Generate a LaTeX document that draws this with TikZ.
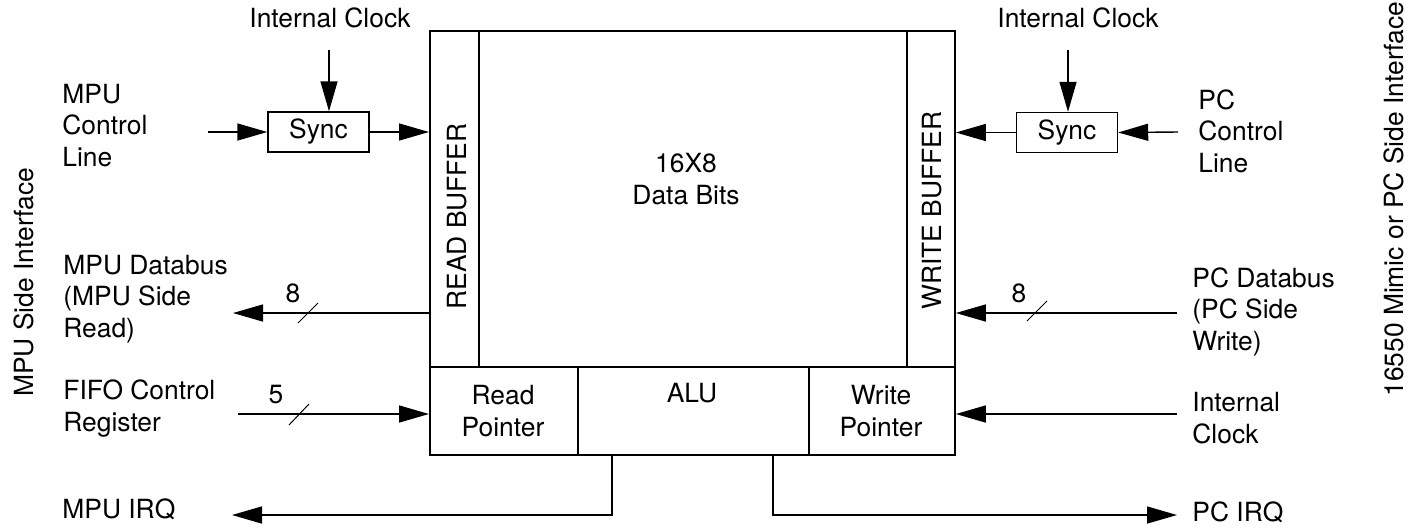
\documentclass[tikz,border=0pt]{standalone}
\usepackage{fontspec}
\setmainfont{TeX Gyre Heros}
\usetikzlibrary{arrows.meta}
\tikzset{
  lbl/.style={font=\fontsize{13.2}{15.75}\selectfont, inner sep=0pt, align=left, anchor=base west},
  clbl/.style={font=\fontsize{13.2}{15.75}\selectfont, inner sep=0pt, align=center, anchor=base},
  rlbl/.style={font=\fontsize{13.2}{15.75}\selectfont, inner sep=0pt, rotate=90, anchor=base west},
  cell/.style={draw, line width=0.9pt, inner sep=0pt, anchor=north west},
  syncbox/.style={draw, line width=0.7pt, minimum width=50.5pt, minimum height=20pt, inner sep=0pt,
                  font=\fontsize{13.2}{15.75}\selectfont},
  arr/.style={line width=0.7pt, -{Triangle[length=15pt,width=8.5pt]}},
  wire/.style={line width=0.7pt},
  busmark/.style={line width=0.5pt},
}
\begin{document}
\begin{tikzpicture}[x=0.5pt,y=-0.5pt]
\useasboundingbox (0,0) rectangle (1416,527);
% FIFO block
\node[cell, minimum width=24.5pt, minimum height=168pt] (readbuf) at (429,30) {};
\node[cell, minimum width=214pt, minimum height=168pt] (core) at (478,30) {};
\node[cell, minimum width=24pt, minimum height=168pt] (writebuf) at (906,30) {};
\node[cell, minimum width=74pt, minimum height=44pt] (rptr) at (429,366) {};
\node[cell, minimum width=115.5pt, minimum height=44pt] (alu) at (577,366) {};
\node[cell, minimum width=73pt, minimum height=44pt] (wptr) at (808,366) {};
\node[rlbl] (rbtxt) at (466,310) {READ BUFFER};
\node[rlbl] (wbtxt) at (941,310) {WRITE BUFFER};
\node[clbl] (coretxt) at (686,204) {16X8\\Data Bits};
\node[clbl] (rptrtxt) at (503,436) {Read\\Pointer};
\node[clbl] (alutxt) at (692,402) {ALU};
\node[clbl] (wptrtxt) at (881,436) {Write\\Pointer};
% side labels
\node[rlbl] (mpuside) at (33,397) {MPU Side Interface};
\node[rlbl] (pcside) at (1403,397) {16550 Mimic or PC Side Interface};
% left side
\node[clbl] (iclkL) at (330,27) {Internal Clock};
\node[syncbox] (syncL) at (318.5,132) {Sync};
\coordinate (clkLs) at (329,50);
\draw[arr] (clkLs) -- (clkLs |- syncL.north);
\node[lbl] (mpuctl) at (62,166) {MPU\\Control\\Line};
\coordinate (inL) at (208,132);
\draw[arr] (inL) -- (syncL.west);
\draw[arr] (syncL.east) -- (syncL.east -| readbuf.west);
\node[lbl] (mpudb) at (63,337) {MPU Databus\\(MPU Side\\Read)};
\coordinate (dbL) at (233,313);
\draw[arr] (dbL -| readbuf.west) -- (dbL);
\draw[busmark] (298,323) -- (318,303);
\node[clbl] (n8L) at (293,302) {8};
\node[lbl] (fifo) at (63,431) {FIFO Control\\Register};
\coordinate (fifoL) at (238,414);
\draw[arr] (fifoL) -- (fifoL -| rptr.west);
\draw[busmark] (289,425) -- (309,404);
\node[clbl] (n5) at (276,403) {5};
\node[lbl] (mpuirq) at (62,518) {MPU IRQ};
\coordinate (irqL) at (232,515);
\draw[arr] (alu.south -| 612,0) -- (612,515) -- (irqL);
% right side
\node[clbl] (iclkR) at (1078,27) {Internal Clock};
\node[syncbox] (syncR) at (1067,132.5) {Sync};
\coordinate (clkRs) at (1068,50);
\draw[arr] (clkRs) -- (clkRs |- syncR.north);
\node[lbl] (pcctl) at (1198,172) {PC\\Control\\Line};
\coordinate (inR) at (1178,132);
\draw[arr] (inR) -- (syncR.east);
\draw[arr] (syncR.west) -- (syncR.west -| writebuf.east);
\node[lbl] (pcdb) at (1192,350) {PC Databus\\(PC Side\\Write)};
\coordinate (dbR) at (1177,313);
\draw[arr] (dbR) -- (dbR -| writebuf.east);
\draw[busmark] (1027,321) -- (1047,301);
\node[clbl] (n8R) at (1019,302) {8};
\node[lbl] (iclkR2) at (1192,443) {Internal\\Clock};
\coordinate (clkR2) at (1177,414);
\draw[arr] (clkR2) -- (clkR2 -| wptr.east);
\node[lbl] (pcirq) at (1192,521) {PC IRQ};
\coordinate (irqR) at (1177,515);
\draw[arr] (alu.south -| 773,0) -- (773,515) -- (irqR);
\end{tikzpicture}
\end{document}
